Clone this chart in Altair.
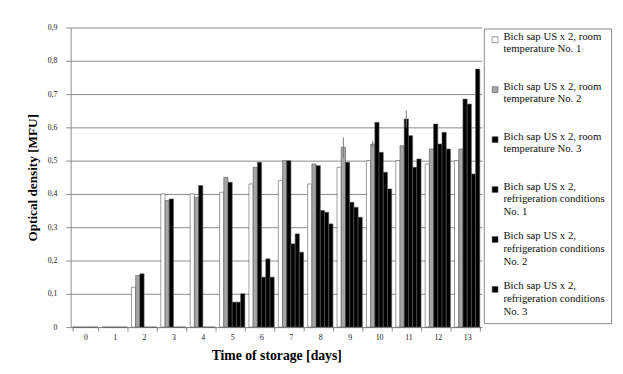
import altair as alt
import pandas as pd

days = list(range(14))
series = [
    "Bich sap US x 2, room temperature No. 1",
    "Bich sap US x 2, room temperature No. 2",
    "Bich sap US x 2, room temperature No. 3",
    "Bich sap US x 2, refrigeration conditions No. 1",
    "Bich sap US x 2, refrigeration conditions No. 2",
    "Bich sap US x 2, refrigeration conditions No. 3",
]
room1 = [0, 0, 0.12, 0.40, 0.40, 0.405, 0.43, 0.44, 0.43, 0.48, 0.50, 0.50, 0.49, 0.50]
room2 = [0, 0, 0.155, 0.38, 0.39, 0.45, 0.48, 0.50, 0.49, 0.54, 0.55, 0.545, 0.535, 0.535]
room3 = [0, 0, 0.16, 0.385, 0.425, 0.435, 0.495, 0.50, 0.485, 0.495, 0.615, 0.625, 0.61, 0.685]
refr1 = [0, 0, 0, 0, 0, 0.075, 0.15, 0.25, 0.35, 0.375, 0.525, 0.575, 0.55, 0.67]
refr2 = [0, 0, 0, 0, 0, 0.075, 0.205, 0.28, 0.345, 0.36, 0.465, 0.48, 0.585, 0.46]
refr3 = [0, 0, 0, 0, 0, 0.10, 0.15, 0.225, 0.31, 0.33, 0.415, 0.505, 0.535, 0.775]
err2 = [0, 0, 0, 0, 0, 0, 0, 0, 0, 0.03, 0.01, 0, 0, 0]
err3 = [0, 0, 0, 0, 0, 0, 0, 0, 0, 0, 0, 0.025, 0, 0]
zeros = [0] * 14

fills = ["#ffffff", "#a6a6a6", "#000000", "#000000", "#000000", "#000000"]

rows = []
for s, vals, errs in zip(series, [room1, room2, room3, refr1, refr2, refr3],
                         [zeros, err2, err3, zeros, zeros, zeros]):
    for d, v, e in zip(days, vals, errs):
        rows.append({"day": d, "series": s, "value": v, "lo": v - e, "hi": v + e, "err": e})
df = pd.DataFrame(rows)

FONT = "Liberation Serif"
y_ticks = [0, 0.1, 0.2, 0.3, 0.4, 0.5, 0.6, 0.7, 0.8, 0.9]

x_axis = alt.Axis(title="Time of storage [days]", labelAngle=0, tickBand="extent",
                  grid=False, domainColor="#8a8a8a", tickColor="#8a8a8a", tickSize=4,
                  labelFont=FONT, labelFontSize=8, labelColor="#222", labelPadding=3,
                  titleFont=FONT, titleFontSize=14, titleFontWeight="bold",
                  titleColor="#000", titlePadding=7)
y_axis = alt.Axis(title="Optical density [MFU]", values=y_ticks, tickCount=10,
                  labelOverlap=False,
                  labelExpr="replace(format(datum.value, '.1~f'), '.', ',')",
                  grid=True, gridColor="#8a8a8a", gridWidth=1,
                  domainColor="#8a8a8a", tickColor="#8a8a8a", tickSize=5,
                  labelFont=FONT, labelFontSize=8, labelColor="#222", labelPadding=9,
                  titleFont=FONT, titleFontSize=13.5, titleFontWeight="bold",
                  titleColor="#000", titlePadding=8)
x_scale = alt.Scale(paddingInner=0.14, paddingOuter=0.07)
y_scale = alt.Scale(domain=[0, 0.9], nice=False)

legend_expr = ("split(replace(replace(datum.label, 'room ', 'room|'), "
               "', refrigeration conditions ', ',|refrigeration conditions|'), '|')")

bars = alt.Chart(df).mark_bar(stroke="#555", strokeWidth=0.6).encode(
    x=alt.X("day:O", sort=days, scale=x_scale, axis=x_axis),
    xOffset=alt.XOffset("series:N", sort=series, scale=alt.Scale(paddingInner=0)),
    y=alt.Y("value:Q", scale=y_scale, axis=y_axis),
    fill=alt.Fill("series:N", sort=series,
                  scale=alt.Scale(domain=series, range=fills),
                  legend=alt.Legend(title=None, orient="none", legendX=422, legendY=1,
                                    direction="vertical", symbolType="square", symbolSize=36,
                                    symbolStrokeWidth=0.6,
                                    labelFont=FONT, labelFontSize=11, labelColor="#111",
                                    labelLimit=300, labelExpr=legend_expr,
                                    labelBaseline="alphabetic", labelOffset=3,
                                    padding=6, rowPadding=13, gridAlign="all",
                                    strokeColor="#888", fillColor="white")),
)

errbars = alt.Chart(df).transform_filter("datum.err > 0").mark_rule(
    color="#777", strokeWidth=1).encode(
    x=alt.X("day:O", sort=days, scale=x_scale, axis=x_axis),
    xOffset=alt.XOffset("series:N", sort=series),
    y=alt.Y("lo:Q", scale=y_scale, axis=y_axis),
    y2="hi:Q",
)

chart = alt.layer(bars, errbars).properties(
    width=420, height=306,
    autosize=alt.AutoSizeParams(type="none"),
    padding={"left": 64, "top": 16, "right": 136, "bottom": 44},
).configure_view(stroke=None)

chart.save("out.html", embed_options={"renderer": "svg", "actions": False})
